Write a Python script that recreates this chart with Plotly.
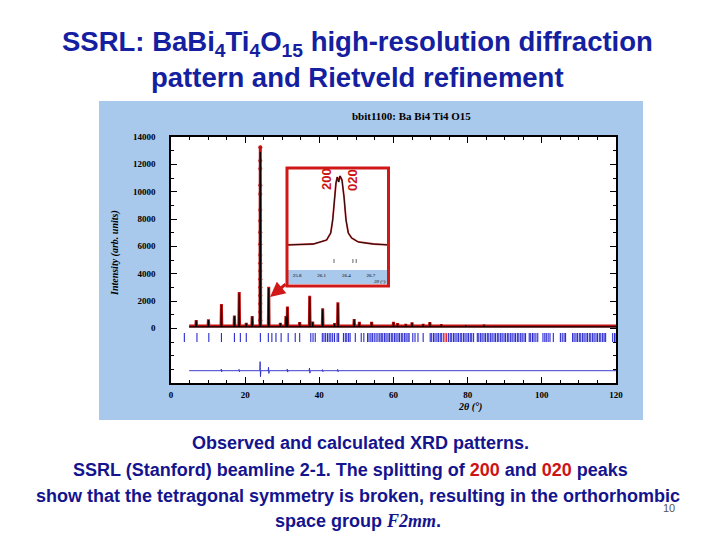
import plotly.graph_objects as go

# ---------------- data ----------------
peak_pos = [6.8, 10.1, 13.6, 17.1, 18.4, 20.3, 21.9, 24.08, 26.35, 29.5, 31.0, 31.4,
            34.7, 37.4, 38.2, 40.9, 44.1, 45.0, 49.4, 50.8, 54.1, 60.0, 61.1, 63.3,
            65.0, 68.0, 69.8, 72.9, 79.5, 84.4]
peak_obs = [600, 650, 1770, 930, 2650, 400, 900, 13245, 3045, 400, 900, 1600,
            450, 2380, 500, 1470, 370, 1900, 680, 480, 480, 480, 370, 320,
            440, 320, 460, 300, 250, 280]
peak_calc = [560, 610, 1700, 880, 2550, 370, 850, 12900, 2950, 370, 850, 1530,
             420, 2300, 460, 1400, 340, 1820, 640, 450, 450, 450, 340, 300,
             410, 300, 430, 280, 230, 260]
obs_background = 170
calc_background = 110
scan_start, scan_end = 4.9, 120.0

main_peak_dots = [13245, 12265, 11680, 10465, 9830, 8660, 7875, 7025, 6150, 5365,
                  4755, 4190, 3600, 3000, 2400, 1800, 1200, 600]

bragg_ticks = [3.6, 7.0, 10.2, 13.6, 17.1, 18.7, 20.3, 24.1, 26.25, 27.2, 28.3, 29.7,
               31.6, 33.5, 34.7, 37.7, 38.3, 38.9, 40.8, 41.25, 41.7, 42.2, 42.65, 43.1,
               43.6, 44.1, 44.8, 45.2, 46.5, 47.0, 47.4, 47.9, 48.3, 49.7, 51.3, 52.0,
               53.0, 53.4, 53.9, 54.3, 54.8, 55.3, 55.8, 56.3, 56.7, 57.1, 57.6, 58.0,
               58.5, 58.9, 59.4, 59.8, 60.3, 60.7, 61.2, 61.6, 62.1, 62.5, 63.0, 63.4,
               63.9, 64.2, 65.2, 65.8, 66.6, 68.0, 69.9, 70.3, 70.8, 71.2, 71.7, 72.1,
               72.6, 73.0, 74.8, 75.3, 75.7, 76.2, 76.6, 77.1, 77.5, 78.0, 78.4, 78.9,
               79.3, 79.8, 80.2, 80.7, 81.1, 81.6, 82.6, 83.0, 83.5, 83.9, 84.4, 84.8,
               85.3, 85.7, 86.2, 86.6, 87.1, 87.5, 88.0, 88.4, 88.9, 89.3, 89.8, 90.2,
               90.7, 91.1, 91.6, 92.0, 92.5, 92.9, 93.4, 93.8, 94.3, 94.7, 95.2, 95.6,
               96.6, 97.0, 97.5, 97.9, 98.4, 98.9, 100.3, 100.8, 101.2, 101.7, 102.2,
               103.1, 105.0, 105.5, 106.0, 106.4, 108.3, 108.7, 109.2, 109.6, 110.1,
               110.5, 111.0, 111.4, 111.9, 112.3, 112.8, 113.2, 113.7, 114.1, 114.6,
               115.0, 115.5, 115.9, 116.4, 116.8, 117.2, 119.1, 119.6, 120.0]
bragg_ticks_red = [73.5, 73.9, 74.3]
bragg_tick_top, bragg_tick_bottom = -350, -1000

diff_level = -3100
diff_spike_pos = [13.6, 18.4, 24.08, 26.35, 31.4, 37.4, 40.9, 45.0]
diff_spike_up = [120, 100, 660, 250, 120, 200, 80, 100]
diff_spike_down = [80, 80, 440, 200, 100, 180, 80, 80]

# inset: 200 / 020 doublet
inset_x = [25.67, 25.998, 26.16, 26.21, 26.234, 26.254, 26.274, 26.29, 26.307, 26.323,
           26.347, 26.372, 26.396, 26.424, 26.465, 26.546, 26.728, 26.93]
inset_y = [0, 1, 5, 12, 25, 45, 62, 68, 63, 69, 65, 48, 25, 12, 7, 3, 1, 0]
inset_ticks = [26.25, 26.48, 26.52]
inset_tickvals = [25.8, 26.1, 26.4, 26.7]
inset_ticktext = ["25.8", "26.1", "26.4", "26.7"]

y_tickvals = [0, 2000, 4000, 6000, 8000, 10000, 12000, 14000]
y_ticktext = ["0", "2000", "4000", "6000", "8000", "10000", "12000", "14000"]
x_tickvals = [0, 20, 40, 60, 80, 100, 120]
x_ticktext = ["0", "20", "40", "60", "80", "100", "120"]

# ---------------- geometry helpers ----------------
OFF = 8                      # page body margin of the html page
W, H = 720 - OFF, 540 - OFF
L, R, T, B = 171, 616, 137, 383   # plot area in screen pixels


def px(x):
    return (x - L) / (R - L)


def py(y):
    return (B - y) / (B - T)


NAVY = "#14148e"
TITLE_BLUE = "#1420a0"
PANEL = "#a8c8ec"

# ---------------- build traces ----------------
obs_x, obs_y = [scan_start], [obs_background]
calc_x, calc_y = [scan_start], [calc_background]
for p, ho, hc in zip(peak_pos, peak_obs, peak_calc):
    obs_x += [p - 0.1, p, p + 0.1]
    obs_y += [obs_background, ho, obs_background]
    calc_x += [p - 0.1, p, p + 0.1]
    calc_y += [calc_background, hc, calc_background]
obs_x.append(scan_end); obs_y.append(obs_background)
calc_x.append(scan_end); calc_y.append(calc_background)

diff_x, diff_y = [scan_start], [diff_level]
for p, u, d in zip(diff_spike_pos, diff_spike_up, diff_spike_down):
    diff_x += [p - 0.15, p - 0.05, p + 0.05, p + 0.15]
    diff_y += [diff_level, diff_level + u, diff_level - d, diff_level]
diff_x.append(scan_end); diff_y.append(diff_level)


def seg(xs, y0, y1):
    sx, sy = [], []
    for v in xs:
        sx += [v, v, None]
        sy += [y0, y1, None]
    return sx, sy


bx, by = seg(bragg_ticks, bragg_tick_top, bragg_tick_bottom)
rbx, rby = seg(bragg_ticks_red, bragg_tick_top, bragg_tick_bottom)
ibx, iby = seg(inset_ticks, -14, -18)

fig = go.Figure()
fig.add_trace(go.Scatter(x=obs_x, y=obs_y, mode="lines",
                         line=dict(color="#c01010", width=3), hoverinfo="skip"))
fig.add_trace(go.Scatter(x=[peak_pos[7]] * len(main_peak_dots), y=main_peak_dots,
                         mode="markers", marker=dict(color="#c01010", size=4)))
fig.add_trace(go.Scatter(x=calc_x, y=calc_y, mode="lines",
                         line=dict(color="black", width=1.1)))
fig.add_trace(go.Scatter(x=bx, y=by, mode="lines",
                         line=dict(color="#2a2ad0", width=1.1)))
fig.add_trace(go.Scatter(x=rbx, y=rby, mode="lines",
                         line=dict(color="#e03040", width=1.1)))
fig.add_trace(go.Scatter(x=diff_x, y=diff_y, mode="lines",
                         line=dict(color="#2828c8", width=0.9)))

# inset traces
fig.add_trace(go.Scatter(x=inset_x, y=inset_y, mode="lines", xaxis="x2", yaxis="y2",
                         line=dict(color="#c03030", width=1.8)))
fig.add_trace(go.Scatter(x=inset_x, y=inset_y, mode="lines", xaxis="x2", yaxis="y2",
                         line=dict(color="black", width=0.8)))
fig.add_trace(go.Scatter(x=ibx, y=iby, mode="lines", xaxis="x2", yaxis="y2",
                         line=dict(color="#404040", width=0.8)))

serif = "Liberation Serif"
sans = "Liberation Sans"

axis_common = dict(showline=True, linecolor="black", linewidth=1.5, mirror="allticks",
                   ticks="inside", ticklen=6, tickcolor="black", tickwidth=1,
                   showgrid=False, zeroline=False,
                   tickfont=dict(family=serif, size=9, color="black", weight="bold"))

fig.update_layout(
    width=W, height=H,
    margin=dict(l=L - OFF, r=W - (R - OFF), t=T - OFF, b=H - (B - OFF)),
    paper_bgcolor="white", plot_bgcolor="rgba(0,0,0,0)",
    showlegend=False,
    xaxis=dict(range=[0, 120], tickvals=x_tickvals, ticktext=x_ticktext,
               minor=dict(dtick=5, ticks="inside", ticklen=3, tickcolor="black"),
               ticklabelstandoff=2, **axis_common),
    yaxis=dict(range=[-4000, 14000], tickvals=y_tickvals, ticktext=y_ticktext,
               minor=dict(dtick=1000, ticks="inside", ticklen=3, tickcolor="black"),
               ticklabelstandoff=12, **axis_common),
    xaxis2=dict(domain=[px(288), px(388)], range=[25.69, 26.907], anchor="y2",
                tickvals=inset_tickvals, ticktext=inset_ticktext, ticks="",
                showline=False, showgrid=False, zeroline=False,
                tickfont=dict(family=serif, size=5, color="black"),
                ticklabelstandoff=1),
    yaxis2=dict(domain=[py(270), py(170)], range=[-25, 75], anchor="x2",
                showticklabels=False, ticks="", showline=False, showgrid=False,
                zeroline=False),
)

fig.update_layout(shapes=[
    dict(type="rect", xref="paper", yref="paper", x0=px(99), x1=px(643), y0=py(420), y1=py(101),
         fillcolor=PANEL, line=dict(width=0), layer="below"),
    dict(type="rect", xref="paper", yref="paper", x0=0, x1=1, y0=0, y1=1,
         fillcolor="white", line=dict(width=0), layer="below"),
    dict(type="rect", xref="paper", yref="paper", x0=px(288), x1=px(387), y0=py(284), y1=py(270),
         fillcolor=PANEL, line=dict(width=0), layer="below"),
    dict(type="rect", xref="paper", yref="paper", x0=px(287), x1=px(388.5), y0=py(286), y1=py(168),
         fillcolor="rgba(0,0,0,0)", line=dict(color="#d01818", width=3), layer="above"),
])

ann = []


def text(x, y, s, size, color, family=sans, weight="bold", angle=0, xa="center"):
    ann.append(dict(x=px(x), y=py(y), xref="paper", yref="paper", text=s, showarrow=False,
                    xanchor=xa, yanchor="middle", textangle=angle,
                    font=dict(family=family, size=size, color=color, weight=weight)))


text(357, 43, "SSRL: BaBi<sub>4</sub>Ti<sub>4</sub>O<sub>15</sub> high-resolution diffraction",
     27.5, TITLE_BLUE)
text(357, 77, "pattern and Rietveld refinement", 27.5, TITLE_BLUE)
text(411, 116, "bbit1100: Ba Bi4 Ti4 O15", 11, "black", family=serif)
text(115, 253, "<i>Intensity (arb. units)</i>", 10, "black", family=serif, angle=-90)
text(470, 407, "<i>2θ (°)</i>", 10, "black", family=serif)
text(326, 179, "200", 13, "#cc1414", angle=-90)
text(352, 180, "020", 13, "#cc1414", angle=-90)
text(380, 281, "<i>2θ (°)</i>", 5, "black", family=serif, weight="normal")

text(360, 443, "Observed and calculated XRD patterns.", 18, NAVY)
text(350, 470, "SSRL (Stanford) beamline 2-1. The splitting of "
     "<span style='color:#cc1414'>200</span> and "
     "<span style='color:#cc1414'>020</span> peaks", 18, NAVY)
text(358, 496, "show that the tetragonal symmetry is broken, resulting in the orthorhombic",
     18, NAVY)
text(358, 521, "space group <i><span style='font-family:Liberation Serif'>F2mm</span></i>.",
     18, NAVY)
text(669, 508, "10", 11, "#555555", weight="normal")

ann.append(dict(x=26.7, y=2290, xref="x", yref="y", ax=17, ay=-14, axref="pixel", ayref="pixel",
                showarrow=True, arrowhead=2, arrowsize=1, arrowwidth=3, arrowcolor="#d01818",
                text=""))

fig.update_layout(annotations=ann)
fig.write_html("out.html")
